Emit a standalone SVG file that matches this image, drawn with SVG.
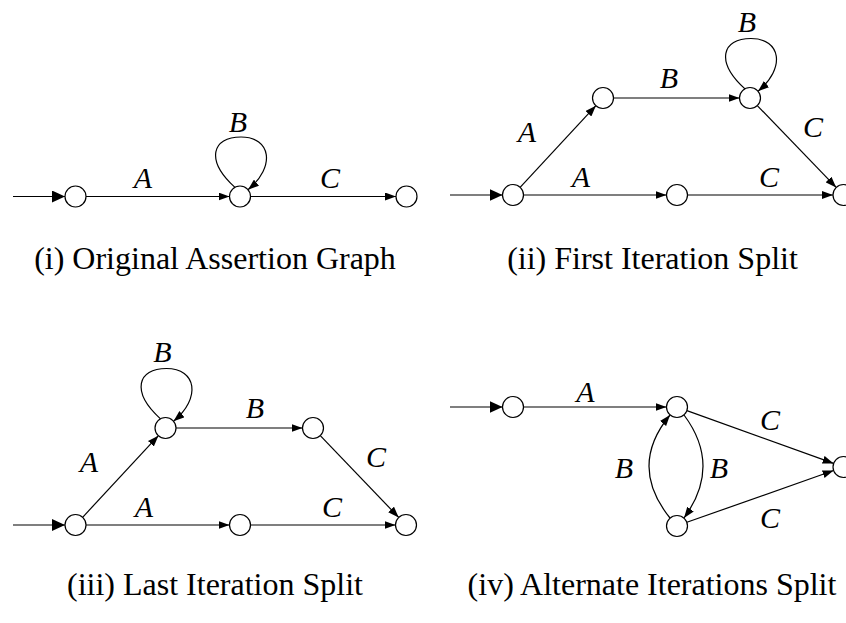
<svg xmlns="http://www.w3.org/2000/svg" width="846" height="623" viewBox="0 0 846 623">
<style>
.n{fill:#fff;stroke:#000;stroke-width:1.2}
.e{fill:none;stroke:#000;stroke-width:1.2;marker-end:url(#ah)}
.s{fill:none;stroke:#000;stroke-width:1.2;marker-end:url(#big)}
</style>
<defs>
<marker id="ah" viewBox="0 0 11 8" refX="11" refY="4" markerWidth="11" markerHeight="8" markerUnits="userSpaceOnUse" orient="auto"><path d="M0,0 L11,4 L0,8 z" fill="#000"/></marker>
<marker id="big" viewBox="0 0 13 12" refX="13" refY="6" markerWidth="13" markerHeight="12" markerUnits="userSpaceOnUse" orient="auto"><path d="M0,0 L13,6 L0,12 z" fill="#000"/></marker>
</defs>
<rect width="846" height="623" fill="#fff"/>

<g id="connectors">
<path class="s" d="M13,196.5 H65"/>
<path class="e" d="M86,196.5 H229.5"/>
<path class="e" d="M250.5,196.5 H396"/>
<path class="e" d="M235,187.4 C205,160 212,137 241,137 C271,137 276,166.5 248,189.7"/>
<path class="s" d="M450,195 H502.5"/>
<path class="e" d="M520.1,187.3 L595.9,105.7"/>
<path class="e" d="M613.5,98 H739.5"/>
<path class="e" d="M745,88.9 C715,61.5 722,38.5 751,38.5 C781,38.5 786,68 758,91.2"/>
<path class="e" d="M757.3,105.6 L836.2,187.4"/>
<path class="e" d="M523.5,195 H666.5"/>
<path class="e" d="M687.5,195 H833"/>
<path class="s" d="M13,525 H65"/>
<path class="e" d="M82.6,517.3 L158.4,435.7"/>
<path class="e" d="M160.5,418.9 C130.5,391.5 137.5,368.5 166.5,368.5 C196.5,368.5 201.5,398 173.5,421.2"/>
<path class="e" d="M176,428 H302.5"/>
<path class="e" d="M320.3,435.6 L398.7,517.4"/>
<path class="e" d="M86,525 H229.5"/>
<path class="e" d="M250.5,525 H395.5"/>
<path class="s" d="M450,407 H502.5"/>
<path class="e" d="M523.5,407 H666.5"/>
<path class="e" d="M686.9,410.6 L833.6,463.4"/>
<path class="e" d="M686.9,522.3 L833.6,470.5"/>
<path class="e" d="M684,415 Q722,466 684,518"/>
<path class="e" d="M670,518 Q628,466 670,415"/>
</g>

<g id="labels" font-family="Liberation Serif, Times New Roman, DejaVu Serif, serif" font-style="italic" font-size="30" text-anchor="middle" fill="#000">
<text x="143" y="188.3">A</text>
<text x="238" y="131.7">B</text>
<text x="330" y="188.3">C</text>
<text x="527" y="141.7">A</text>
<text x="669" y="88.3">B</text>
<text x="747" y="31.7">B</text>
<text x="813" y="136.7">C</text>
<text x="581" y="186.7">A</text>
<text x="769" y="186.7">C</text>
<text x="162.5" y="361.7">B</text>
<text x="255" y="418.3">B</text>
<text x="89" y="471.7">A</text>
<text x="376" y="466.7">C</text>
<text x="144" y="516.7">A</text>
<text x="332" y="516.7">C</text>
<text x="585.5" y="401.7">A</text>
<text x="770" y="430">C</text>
<text x="624" y="478.3">B</text>
<text x="719" y="478.3">B</text>
<text x="770" y="528.3">C</text>
</g>

<g id="captions" font-family="Liberation Serif, Times New Roman, DejaVu Serif, serif" font-size="32" text-anchor="middle" fill="#000">
<text x="215" y="269">(i) Original Assertion Graph</text>
<text x="652.5" y="269">(ii) First Iteration Split</text>
<text x="215" y="595">(iii) Last Iteration Split</text>
<text x="652" y="595">(iv) Alternate Iterations Split</text>
</g>

<g id="i-n1"><circle class="n" cx="75.5" cy="196.5" r="10.5"/></g>
<g id="i-n2"><circle class="n" cx="240" cy="196.5" r="10.5"/></g>
<g id="i-n3"><circle class="n" cx="406.5" cy="196.5" r="10.5"/></g>
<g id="ii-n1"><circle class="n" cx="513" cy="195" r="10.5"/></g>
<g id="ii-n2"><circle class="n" cx="603" cy="98" r="10.5"/></g>
<g id="ii-n3"><circle class="n" cx="750" cy="98" r="10.5"/></g>
<g id="ii-n4"><circle class="n" cx="677" cy="195" r="10.5"/></g>
<g id="ii-n5"><circle class="n" cx="843.5" cy="195" r="10.5"/></g>
<g id="iii-n1"><circle class="n" cx="75.5" cy="525" r="10.5"/></g>
<g id="iii-n2"><circle class="n" cx="165.5" cy="428" r="10.5"/></g>
<g id="iii-n3"><circle class="n" cx="313" cy="428" r="10.5"/></g>
<g id="iii-n4"><circle class="n" cx="240" cy="525" r="10.5"/></g>
<g id="iii-n5"><circle class="n" cx="406" cy="525" r="10.5"/></g>
<g id="iv-n1"><circle class="n" cx="513" cy="407" r="10.5"/></g>
<g id="iv-n2"><circle class="n" cx="677" cy="407" r="10.5"/></g>
<g id="iv-n3"><circle class="n" cx="677" cy="526" r="10.5"/></g>
<g id="iv-n4"><circle class="n" cx="843.5" cy="467" r="10.5"/></g>
</svg>
